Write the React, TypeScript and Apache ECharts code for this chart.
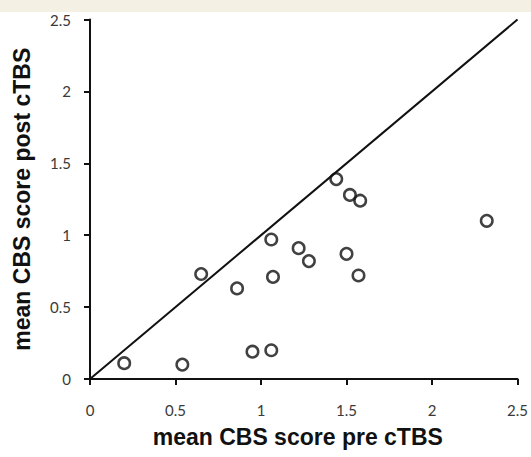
import React, { useEffect, useRef } from "react";
import * as echarts from "echarts";

const preCTBS: number[] = [0.2, 0.54, 0.65, 0.86, 0.95, 1.06, 1.06, 1.07, 1.22, 1.28, 1.44, 1.52, 1.58, 1.5, 1.57, 2.32];
const postCTBS: number[] = [0.11, 0.1, 0.73, 0.63, 0.19, 0.2, 0.97, 0.71, 0.91, 0.82, 1.39, 1.28, 1.24, 0.87, 0.72, 1.1];
const identityLine: number[][] = [[0, 0], [2.5, 2.5]];
const xTitle = "mean CBS score pre cTBS";
const yTitle = "mean CBS score post cTBS";

export default function App() {
  const ref = useRef<HTMLDivElement>(null);
  useEffect(() => {
    if (!ref.current) return;
    const chart = echarts.init(ref.current, null, { renderer: "svg" });
    const points = preCTBS.map((x, i) => [x, postCTBS[i]]);
    const axisCommon = {
      type: "value",
      min: 0,
      max: 2.5,
      interval: 0.5,
      nameLocation: "middle",
      axisLine: { show: true, lineStyle: { color: "#111", width: 2 } },
      axisTick: { show: true, inside: false, length: 6, lineStyle: { color: "#111", width: 2 } },
      splitLine: { show: false },
    };
    chart.setOption({
      animation: false,
      backgroundColor: "#ffffff",
      graphic: [
        { type: "rect", left: 0, top: 0, shape: { width: 531, height: 12 }, style: { fill: "#f4f1e4" }, silent: true },
      ],
      grid: { left: 90, right: 13, top: 19.5, bottom: 78 },
      xAxis: {
        ...axisCommon,
        name: xTitle,
        nameGap: 46,
        nameTextStyle: { fontFamily: "Liberation Sans, Arial, sans-serif", fontWeight: "bold", fontSize: 23, color: "#111", padding: [0, 12, 0, 0] },
        axisLabel: {
          margin: 23,
          fontFamily: "Lato, sans-serif",
          fontSize: 15,
          color: "#3a3a3a",
          formatter: (v: number) => String(v),
        },
      },
      yAxis: {
        ...axisCommon,
        name: yTitle,
        nameGap: 57,
        nameTextStyle: { fontFamily: "Liberation Sans, Arial, sans-serif", fontWeight: "bold", fontSize: 23, color: "#111" },
        axisLabel: {
          margin: 19,
          fontFamily: "Lato, sans-serif",
          fontSize: 15,
          color: "#3a3a3a",
          padding: [7, 0, 0, 0],
          formatter: (v: number) => String(v),
        },
      },
      series: [
        {
          type: "line",
          data: identityLine,
          symbol: "none",
          lineStyle: { color: "#111", width: 2 },
          z: 2,
        },
        {
          type: "scatter",
          data: points,
          symbol: "circle",
          symbolSize: 11.5,
          itemStyle: { color: "rgba(255,255,255,0)", borderColor: "#111", borderWidth: 2.5 },
          z: 3,
        },
      ],
    });
    return () => chart.dispose();
  }, []);
  return (
    <div
      ref={ref}
      style={{ position: "fixed", left: 0, top: 0, width: 531, height: 457 }}
    />
  );
}
